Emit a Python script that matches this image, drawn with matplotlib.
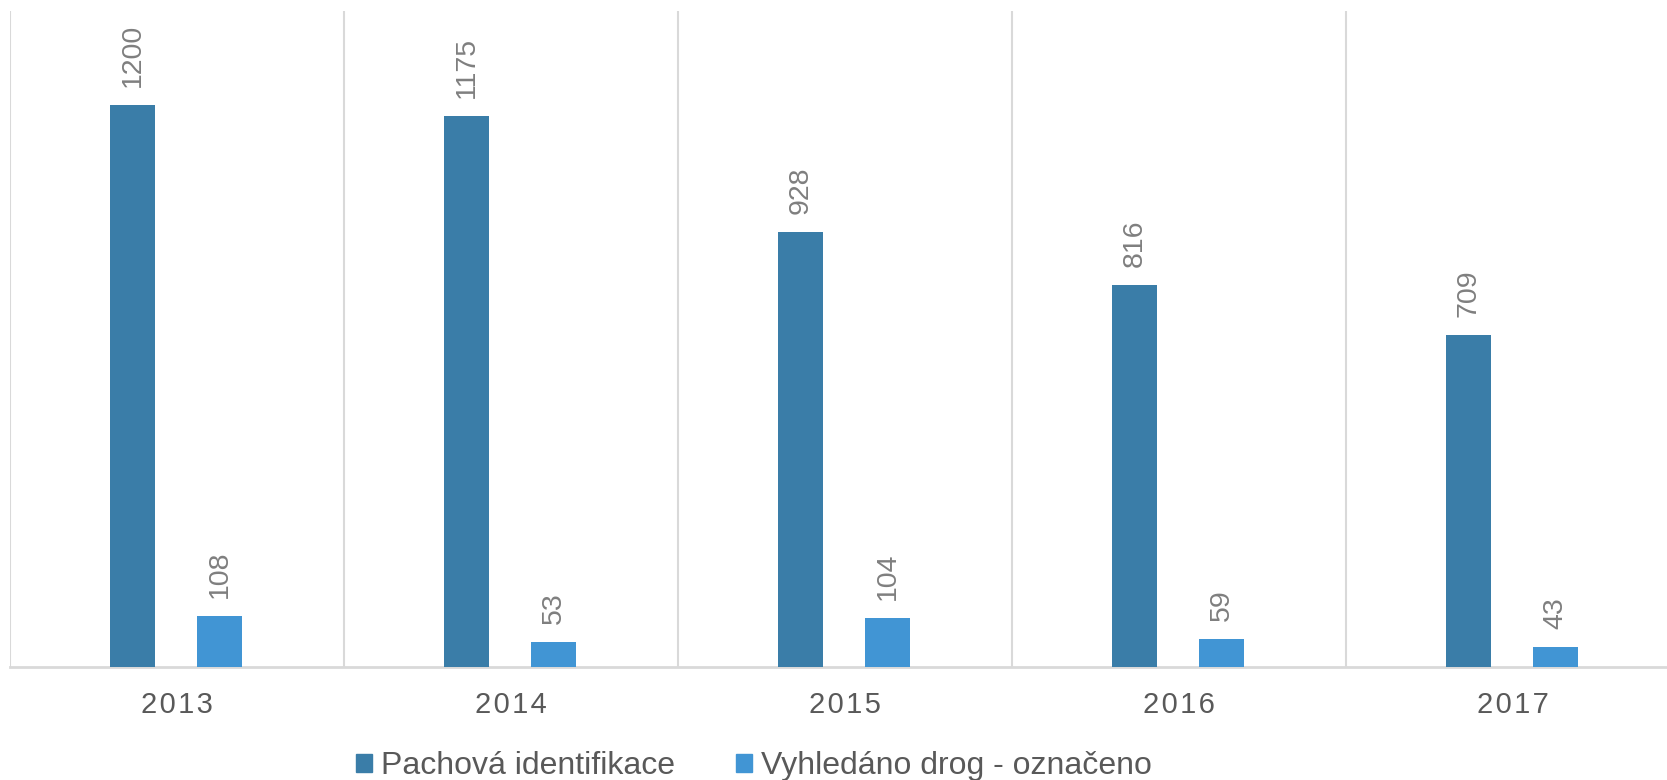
import matplotlib
matplotlib.use("Agg")
import matplotlib.pyplot as plt
import numpy as np
from matplotlib.patches import Patch
from matplotlib import font_manager

years = ["2013", "2014", "2015", "2016", "2017"]
series_names = ["Pachová identifikace", "Vyhledáno drog - označeno"]
pachova = [1200, 1175, 928, 816, 709]
drogy = [108, 53, 104, 59, 43]

DARK = "#3A7DA8"
LIGHT = "#4195D4"
GRID = "#D9D9D9"

plt.rcParams["font.family"] = ["Liberation Sans", "DejaVu Sans"]

names = {f.name for f in font_manager.fontManager.ttflist}
label_font = "Liberation Sans Narrow" if "Liberation Sans Narrow" in names else "Liberation Sans"
label_size = 23 if label_font == "Liberation Sans Narrow" else 20.5

fig = plt.figure(figsize=(16.67, 7.80), dpi=100)
ax = fig.add_axes([10 / 1667, 113 / 780, 1670 / 1667, 656 / 780])

x = np.arange(len(years))
w = 0.135
b1 = ax.bar(x - 0.132, pachova, w, color=DARK, zorder=3)
b2 = ax.bar(x + 0.128, drogy, w, color=LIGHT, zorder=3)

for bars, vals in ((b1, pachova), (b2, drogy)):
    for rect, v in zip(bars, vals):
        ax.annotate(str(v), (rect.get_x() + rect.get_width() / 2, rect.get_height()),
                    xytext=(0, 13), textcoords="offset points",
                    rotation=90, ha="center", va="bottom",
                    fontsize=label_size, color="#7F7F7F",
                    family=[label_font, "DejaVu Sans"])

ax.set_xlim(-0.5, len(years) - 0.5)
ax.set_ylim(0, 1400)

ax.set_xticks(x)
ax.set_xticklabels(["\u200a".join(y) for y in years], fontsize=21, color="#595959")
ax.tick_params(axis="x", length=0, pad=17.5)
ax.set_yticks([])
ax.set_xticks(np.arange(-0.5, len(years)), minor=True)
ax.tick_params(axis="x", which="minor", length=0)
ax.grid(axis="x", which="minor", color=GRID, linewidth=1.5, zorder=0)

for side in ("top", "right", "left"):
    ax.spines[side].set_visible(False)
ax.spines["bottom"].set_color(GRID)
ax.spines["bottom"].set_linewidth(2)

handles = [Patch(color=DARK), Patch(color=LIGHT)]
fig.legend(handles, series_names, loc="center", bbox_to_anchor=(0.4523, 0.018),
           ncol=2, frameon=False, fontsize=23, labelcolor="#595959",
           handlelength=0.5, handleheight=0.5, handletextpad=0.3,
           columnspacing=1.9, borderpad=0)

fig.savefig("out.png", dpi=100)
